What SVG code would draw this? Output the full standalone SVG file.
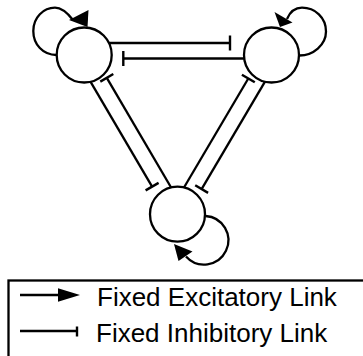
<svg xmlns="http://www.w3.org/2000/svg" width="363" height="356" viewBox="0 0 363 356">
<style>
.node{fill:#fff;stroke:#000;stroke-width:2.3}
.ln{fill:none;stroke:#000;stroke-width:2.3}
.bar{fill:none;stroke:#000;stroke-width:2.4}
.ah{fill:#000;stroke:none}
.lbl{font-family:"Liberation Sans",Arial,sans-serif;font-size:26px;fill:#000}
</style>
<rect width="363" height="356" fill="#fff"/>
<g id="connectors">
  <line class="ln" x1="108" y1="43" x2="230" y2="43"/>
  <line class="bar" x1="230" y1="35.5" x2="230" y2="50.5"/>
  <line class="ln" x1="244" y1="58.5" x2="123.3" y2="58.5"/>
  <line class="bar" x1="123.3" y1="51" x2="123.3" y2="66"/>
  <line class="ln" x1="90.6" y1="81.8" x2="152.1" y2="186.7"/>
  <line class="bar" x1="158.6" y1="182.9" x2="145.6" y2="190.4"/>
  <line class="ln" x1="171.1" y1="187.5" x2="106.8" y2="77.8"/>
  <line class="bar" x1="113.3" y1="74" x2="100.3" y2="81.6"/>
  <line class="ln" x1="265" y1="81.7" x2="201.6" y2="189.1"/>
  <line class="bar" x1="208.1" y1="192.9" x2="195.2" y2="185.3"/>
  <line class="ln" x1="184" y1="187.5" x2="248.3" y2="78.5"/>
  <line class="bar" x1="254.8" y1="82.3" x2="241.9" y2="74.7"/>
  <path class="ln" d="M56.5 55 C43 55 33.3 44.5 33.3 31 C33.3 17.5 43.5 7.7 55 7.7 C62 7.7 67.5 13 73 20"/>
  <polygon class="ah" points="88.5,10 69,20 87.5,27"/>
  <path class="ln" d="M299.5 55.5 C313 55.5 326 45 326 31.5 C326 17.5 315 7.7 302 7.7 C295 7.7 290 12 287 19"/>
  <polygon class="ah" points="274.5,12 292.5,22.5 280,27"/>
  <path class="ln" d="M205.5 216 A24.3 24.3 0 1 1 186 256.5"/>
  <polygon class="ah" points="174,244 192.5,251.5 178.5,261"/>
</g>
<g id="node-a"><circle class="node" cx="84.2" cy="55" r="27.5"/></g>
<g id="node-b"><circle class="node" cx="271.5" cy="55" r="27.5"/></g>
<g id="node-c"><circle class="node" cx="177.5" cy="214.2" r="27.5"/></g>
<g id="legend">
  <rect x="8.5" y="280.5" width="362" height="90" fill="none" stroke="#000" stroke-width="2.3"/>
  <line class="ln" x1="20" y1="295" x2="62" y2="295"/>
  <polygon class="ah" points="58,288.3 80,295 58,301.7"/>
  <text class="lbl" x="97" y="306">Fixed Excitatory Link</text>
  <line class="ln" x1="20" y1="331" x2="77" y2="331"/>
  <line class="bar" x1="77" y1="326.5" x2="77" y2="336.5"/>
  <text class="lbl" x="96" y="342">Fixed Inhibitory Link</text>
</g>
</svg>
